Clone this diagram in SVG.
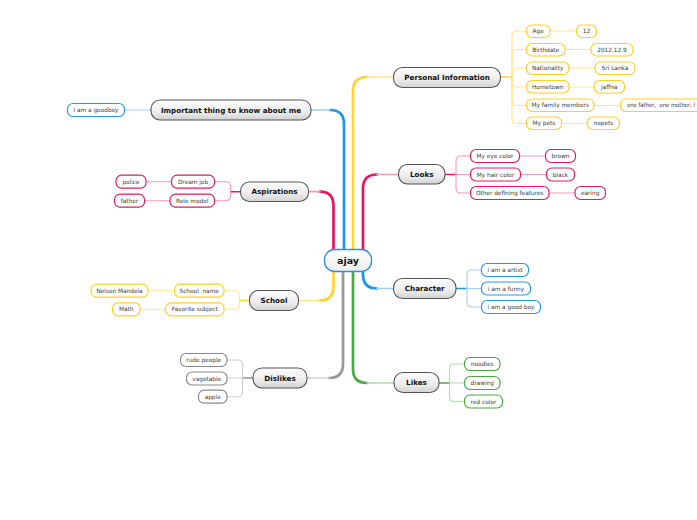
<svg xmlns="http://www.w3.org/2000/svg" width="697" height="520" viewBox="0 0 697 520">
<defs>
<linearGradient id="g" x1="0" y1="0" x2="0" y2="1">
<stop offset="0" stop-color="#fdfdfd"/>
<stop offset="0.6" stop-color="#ececec"/>
<stop offset="1" stop-color="#d2d2d2"/>
</linearGradient>
<linearGradient id="gr" x1="0" y1="0" x2="0" y2="1">
<stop offset="0" stop-color="#ffffff"/>
<stop offset="1" stop-color="#eeeeee"/>
</linearGradient>
</defs>
<style>
text{font-family:"DejaVu Sans","Liberation Sans",sans-serif;text-anchor:middle;white-space:pre}
.main rect{fill:url(#g);stroke:#555;stroke-width:1.1}
.main text{font-size:7.2px;font-weight:bold;fill:#111}
.root rect{fill:url(#gr);stroke:#2f8de4;stroke-width:1.3}
.root text{font-size:9.5px;font-weight:bold;fill:#111}
.leaf rect{fill:#fff;stroke-width:1.2}
.leaf text{font-size:5.8px;fill:#3a3a3a}
.y rect{stroke:#ffcf26}.p rect{stroke:#e21d5c}.b rect{stroke:#2a97e6}.gn rect{stroke:#4aa843}.gy rect{stroke:#8a8a8a}
.c path{fill:none;stroke-linecap:round}
.t{stroke-width:2.7}.h{stroke-width:1.7}.s{stroke-width:1.5}.l{stroke-width:1.1}
.Y.t,.Y.s{stroke:#ffd42e}.Y.h,.Y.l{stroke:#ffe68a}
.P.t,.P.s{stroke:#e8175d}.P.h,.P.l{stroke:#f59abb}
.B.t,.B.s{stroke:#1e96e8}.B.h,.B.l{stroke:#9fd0f5}
.G.t,.G.s{stroke:#4aaa42}.G.h,.G.l{stroke:#afddaa}
.K.t,.K.s{stroke:#999}.K.h,.K.l{stroke:#cfcfcf}
</style>
<g id="connectors" class="c">
<path class="P t" d="M333.5,250 V206 Q333.5,191.7 320,191.7"/><path class="P h" d="M320,191.7 H308.5"/>
<path class="B t" d="M344,250 V124 Q344,110 330,110"/><path class="B h" d="M330,110 H311"/>
<path class="Y t" d="M353,250 V91 Q353,77 367,77"/><path class="Y h" d="M367,77 H393.5"/>
<path class="P t" d="M363,250 V188.5 Q363,174.5 377,174.5"/><path class="P h" d="M377,174.5 H398.5"/>
<path class="Y t" d="M333.5,272 V286.5 Q333.5,300.5 319.5,300.5"/><path class="Y h" d="M319.5,300.5 H299"/>
<path class="B t" d="M363,272 V274.5 Q363,288.5 377,288.5"/><path class="B h" d="M377,288.5 H393.5"/>
<path class="K t" d="M343,272 V364 Q343,378 329,378"/><path class="K h" d="M329,378 H307"/>
<path class="G t" d="M353,272 V369 Q353,383 367,383"/><path class="G h" d="M367,383 H394"/>
<path class="Y s" d="M500.5,77 H512"/>
<path class="Y l" d="M512,77 V36 Q512,31 517,31 H526.5"/>
<path class="Y l" d="M512,77 V54.5 Q512,49.5 517,49.5 H526.5"/>
<path class="Y l" d="M512,77 V73 Q512,68 517,68 H526.5"/>
<path class="Y l" d="M512,77 V82 Q512,87 517,87 H526.5"/>
<path class="Y l" d="M512,77 V100.5 Q512,105.5 517,105.5 H526.5"/>
<path class="Y l" d="M512,77 V118.5 Q512,123.5 517,123.5 H526.5"/>
<path class="Y l" d="M550,31 H576.5"/>
<path class="Y l" d="M565,49.5 H591"/>
<path class="Y l" d="M569,68 H595"/>
<path class="Y l" d="M569,87 H594"/>
<path class="Y l" d="M594,105.5 H620.5"/>
<path class="Y l" d="M561.5,123.5 H587.5"/>
<path class="P s" d="M445,174.5 H456"/>
<path class="P l" d="M456,174.5 V161 Q456,156 461,156 H470.5"/>
<path class="P l" d="M456,174.5 H470.5"/>
<path class="P l" d="M456,174.5 V188 Q456,193 461,193 H470.5"/>
<path class="P l" d="M519.5,156 H545.5"/>
<path class="P l" d="M520.5,174.5 H546.5"/>
<path class="P l" d="M549,193 H575"/>
<path class="B s" d="M456,288.5 H467"/>
<path class="B l" d="M467,288.5 V275 Q467,270 472,270 H481.5"/>
<path class="B l" d="M467,288.5 H481.5"/>
<path class="B l" d="M467,288.5 V302 Q467,307 472,307 H481.5"/>
<path class="G s" d="M439,383 H449.5"/>
<path class="G l" d="M449.5,383 V369 Q449.5,364 454.5,364 H464.5"/>
<path class="G l" d="M449.5,383 H464.5"/>
<path class="G l" d="M449.5,383 V396.5 Q449.5,401.5 454.5,401.5 H464.5"/>
<path class="B l" d="M151,110 H124.5"/>
<path class="P s" d="M240.5,191.7 H230.5"/>
<path class="P l" d="M230.5,191.7 V186.7 Q230.5,181.7 225.5,181.7 H214.5"/>
<path class="P l" d="M230.5,191.7 V195.7 Q230.5,200.7 225.5,200.7 H214.5"/>
<path class="P l" d="M171.5,181.7 H146"/>
<path class="P l" d="M170,200.7 H144.5"/>
<path class="Y s" d="M249.5,300.5 H239.5"/>
<path class="Y l" d="M239.5,300.5 V295.7 Q239.5,290.7 234.5,290.7 H224"/>
<path class="Y l" d="M239.5,300.5 V304.3 Q239.5,309.3 234.5,309.3 H224"/>
<path class="Y l" d="M174.5,290.7 H148"/>
<path class="Y l" d="M165.5,309.3 H140"/>
<path class="K s" d="M253,378 H242.5"/>
<path class="K l" d="M242.5,378 V365 Q242.5,360 237.5,360 H227"/>
<path class="K l" d="M242.5,378 H227"/>
<path class="K l" d="M242.5,378 V391.7 Q242.5,396.7 237.5,396.7 H227"/>
</g>
<g id="n-root" class="root"><rect x="324.5" y="249.5" width="47" height="22" rx="10"/><text x="348" y="264">ajay</text></g>
<g id="n-personal" class="main"><rect x="393.5" y="67.5" width="107" height="20" rx="9"/><text x="447" y="80">Personal Information</text></g>
<g id="n-important" class="main"><rect x="151" y="100" width="160" height="20" rx="9"/><text x="231" y="112.6">Important thing to know about me</text></g>
<g id="n-aspirations" class="main"><rect x="240.5" y="182" width="68" height="19.5" rx="9"/><text x="274.5" y="194.4">Aspirations</text></g>
<g id="n-looks" class="main"><rect x="398.5" y="164.5" width="46.5" height="19.5" rx="9"/><text x="421.7" y="177">Looks</text></g>
<g id="n-character" class="main"><rect x="393.5" y="278.5" width="62.5" height="20" rx="9"/><text x="424.7" y="291.2">Character</text></g>
<g id="n-school" class="main"><rect x="249.5" y="290.5" width="49" height="20" rx="9"/><text x="274" y="303.2">School</text></g>
<g id="n-dislikes" class="main"><rect x="253" y="368" width="54" height="20" rx="9"/><text x="280" y="380.7">Dislikes</text></g>
<g id="n-likes" class="main"><rect x="394" y="372.5" width="45" height="20" rx="9"/><text x="416.5" y="385.2">Likes</text></g>

<g id="n-age" class="leaf y"><rect x="526.5" y="25" width="23.5" height="12.5" rx="5.5"/><text x="538.2" y="33.3">Age</text></g>
<g id="n-age-v" class="leaf y"><rect x="576.5" y="25" width="20" height="12.5" rx="5.5"/><text x="586.5" y="33.3">12</text></g>
<g id="n-birth" class="leaf y"><rect x="526.5" y="43.5" width="38.5" height="12.5" rx="5.5"/><text x="545.7" y="51.8">Birthdate</text></g>
<g id="n-birth-v" class="leaf y"><rect x="591" y="43.5" width="42" height="12.5" rx="5.5"/><text x="612" y="51.8">2012.12.9</text></g>
<g id="n-nat" class="leaf y"><rect x="526.5" y="62" width="42.5" height="12.5" rx="5.5"/><text x="547.7" y="70.3">Nationality</text></g>
<g id="n-nat-v" class="leaf y"><rect x="595" y="62" width="40" height="12.5" rx="5.5"/><text x="615" y="70.3">Sri Lanka</text></g>
<g id="n-home" class="leaf y"><rect x="526.5" y="80.5" width="42.5" height="12.5" rx="5.5"/><text x="547.7" y="88.8">Hometown</text></g>
<g id="n-home-v" class="leaf y"><rect x="594" y="80.5" width="30.5" height="12.5" rx="5.5"/><text x="609.2" y="88.8">jaffna</text></g>
<g id="n-family" class="leaf y"><rect x="526.5" y="99" width="67.5" height="12.5" rx="5.5"/><text x="560.2" y="107.3">My family members</text></g>
<g id="n-family-v" class="leaf y"><rect x="620.5" y="99" width="100" height="12.5" rx="5.5"/><text x="627" y="107.3" style="text-anchor:start" textLength="68" lengthAdjust="spacingAndGlyphs">one father,  one mother, l</text></g>
<g id="n-pets" class="leaf y"><rect x="526.5" y="117" width="35" height="12.5" rx="5.5"/><text x="544" y="125.3">My pets</text></g>
<g id="n-pets-v" class="leaf y"><rect x="587.5" y="117" width="32" height="12.5" rx="5.5"/><text x="603.5" y="125.3">nopets</text></g>

<g id="n-eye" class="leaf p"><rect x="470.5" y="149.5" width="49" height="13" rx="5.5"/><text x="495" y="158.1">My eye color</text></g>
<g id="n-eye-v" class="leaf p"><rect x="545.5" y="149.5" width="30" height="13" rx="5.5"/><text x="560.5" y="158.1">brown</text></g>
<g id="n-hair" class="leaf p"><rect x="470.5" y="168" width="50" height="13" rx="5.5"/><text x="495.5" y="176.6">My hair color</text></g>
<g id="n-hair-v" class="leaf p"><rect x="546.5" y="168" width="28" height="13" rx="5.5"/><text x="560.5" y="176.6">black</text></g>
<g id="n-other" class="leaf p"><rect x="470.5" y="186.5" width="78.5" height="13" rx="5.5"/><text x="509.7" y="195.1">Other defining features</text></g>
<g id="n-other-v" class="leaf p"><rect x="575" y="186.5" width="30.5" height="13" rx="5.5"/><text x="590.2" y="195.1">earing</text></g>

<g id="n-artist" class="leaf b"><rect x="481.5" y="263.5" width="47" height="13" rx="5.5"/><text x="505" y="272.1">i am a artist</text></g>
<g id="n-funny" class="leaf b"><rect x="481.5" y="282" width="49" height="13" rx="5.5"/><text x="506" y="290.6">i am a funny</text></g>
<g id="n-goodboy" class="leaf b"><rect x="481.5" y="300.5" width="59" height="13" rx="5.5"/><text x="511" y="309.1">i am a good boy</text></g>

<g id="n-noodles" class="leaf gn"><rect x="464.5" y="357.5" width="35.5" height="13" rx="5.5"/><text x="482.2" y="366.1">noodles</text></g>
<g id="n-drawing" class="leaf gn"><rect x="464.5" y="376.5" width="35.5" height="13" rx="5.5"/><text x="482.2" y="385.1">drawing</text></g>
<g id="n-red" class="leaf gn"><rect x="464.5" y="395" width="38" height="13" rx="5.5"/><text x="483.5" y="403.6">red color</text></g>

<g id="n-goodboy2" class="leaf b"><rect x="67.5" y="103.5" width="57" height="13" rx="5.5"/><text x="96" y="112.1">I am a goodboy</text></g>

<g id="n-dream" class="leaf p"><rect x="171.5" y="175.2" width="43" height="13" rx="5.5"/><text x="193" y="183.8">Dream job</text></g>
<g id="n-police" class="leaf p"><rect x="116" y="175.2" width="30" height="13" rx="5.5"/><text x="131" y="183.8">police</text></g>
<g id="n-role" class="leaf p"><rect x="170" y="194.2" width="44.5" height="13" rx="5.5"/><text x="192.2" y="202.8">Role model</text></g>
<g id="n-father" class="leaf p"><rect x="114.5" y="194.2" width="30" height="13" rx="5.5"/><text x="129.5" y="202.8">father</text></g>

<g id="n-schoolname" class="leaf y"><rect x="174.5" y="284.2" width="49.5" height="13" rx="5.5"/><text x="199.2" y="292.8">School  name</text></g>
<g id="n-nelson" class="leaf y"><rect x="91" y="284.2" width="57" height="13" rx="5.5"/><text x="119.5" y="292.8">Nelson Mandela</text></g>
<g id="n-fav" class="leaf y"><rect x="165.5" y="302.8" width="58.5" height="13" rx="5.5"/><text x="194.7" y="311.4">Favorite subject</text></g>
<g id="n-math" class="leaf y"><rect x="112.5" y="302.8" width="27.5" height="13" rx="5.5"/><text x="126.2" y="311.4">Math</text></g>

<g id="n-rude" class="leaf gy"><rect x="180.5" y="353.5" width="46.5" height="13" rx="5.5"/><text x="203.7" y="362.1">rude people</text></g>
<g id="n-veg" class="leaf gy"><rect x="186.5" y="372" width="40.5" height="13" rx="5.5"/><text x="206.7" y="380.6">vagetable</text></g>
<g id="n-apple" class="leaf gy"><rect x="198.5" y="390.2" width="28.5" height="13" rx="5.5"/><text x="212.7" y="398.8">apple</text></g>
</svg>
